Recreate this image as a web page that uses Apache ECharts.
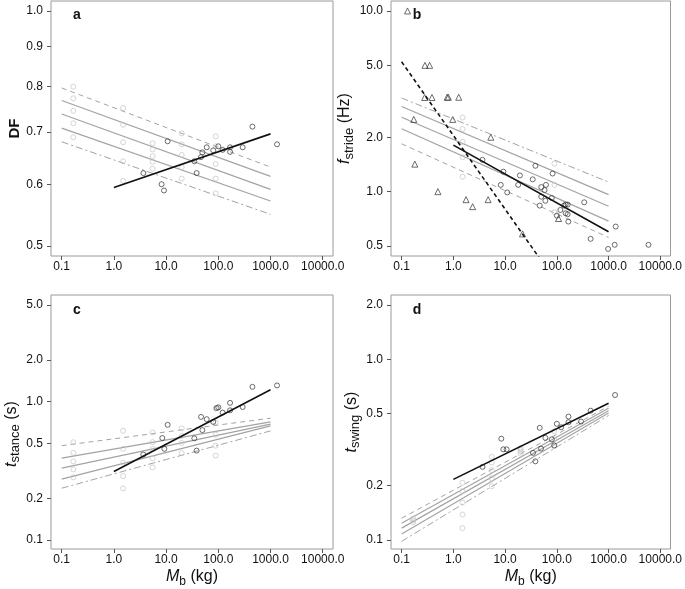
<!DOCTYPE html>
<html><head><meta charset="utf-8">
<script src="https://cdn.jsdelivr.net/npm/echarts@6/dist/echarts.min.js"></script>
<style>html,body{margin:0;padding:0;background:#fff}#c{width:685px;height:589px}</style>
</head><body><div id="c"></div>
<script>
// ---------- tick labels ----------
const xTicks = [0.1, 1, 10, 100, 1000, 10000];
const aTicks = [0.5, 0.6, 0.7, 0.8, 0.9, 1.0];
const bTicks = [0.5, 1.0, 2.0, 5.0, 10.0];
const cTicks = [0.1, 0.2, 0.5, 1.0, 2.0, 5.0];
const dTicks = [0.1, 0.2, 0.5, 1.0, 2.0];

// ---------- regression lines (values at x = 0.1 and 1000) ----------
const fitX = [0.1, 1000];
const blackX = [1, 1000];
// panel a
const aUpper = [0.797, 0.631];
const aFit1 = [0.768, 0.614];
const aFit2 = [0.738, 0.591];
const aFit3 = [0.708, 0.571];
const aLower = [0.680, 0.549];
const aBlack = [0.594, 0.696];
// panel b
const bUpper = [3.30, 1.13];
const bFit1 = [2.96, 0.963];
const bFit2 = [2.58, 0.831];
const bFit3 = [2.23, 0.687];
const bLower = [1.84, 0.558];
const bBlack = [1.81, 0.600];
const bDashX = [0.1, 100];
const bDash = [5.23, 0.313];
// panel c
const cUpper = [0.481, 0.760];
const cFit1 = [0.391, 0.715];
const cFit2 = [0.331, 0.688];
const cFit3 = [0.276, 0.668];
const cLower = [0.237, 0.615];
const cBlack = [0.313, 1.22];
// panel d
const dUpper = [0.1316, 0.549];
const dFit1 = [0.1236, 0.536];
const dFit2 = [0.116, 0.519];
const dFit3 = [0.1075, 0.504];
const dLower = [0.098, 0.488];
const dBlack = [0.216, 0.570];

// ---------- points [body mass kg, value] ----------
const aGray = [[0.167,0.80],[0.167,0.773],[0.167,0.745],[0.167,0.718],[0.167,0.689],
  [1.5,0.751],[1.5,0.715],[1.5,0.679],[1.5,0.642],[1.5,0.606],
  [5.52,0.677],[5.52,0.665],[5.52,0.652],[5.52,0.641],[5.52,0.628],
  [19.9,0.697],[19.9,0.675],[19.9,0.654],[19.9,0.631],[19.9,0.610],
  [89,0.691],[89,0.671],[89,0.637],[89,0.610],[89,0.584]];
const aDark = [[3.67,0.620],[8.2,0.600],[9.1,0.589],[10.7,0.681],[34.7,0.642],[38.5,0.620],
  [46.7,0.650],[49.5,0.659],[60,0.669],[80,0.663],[100,0.671],[121,0.664],[168,0.669],
  [168,0.660],[293,0.669],[450,0.711],[1334,0.675]];

const bGray = [[1.51,2.57],[1.51,2.22],[1.51,1.89],[1.51,1.55],[1.51,1.21],[90,1.43],[90,1.09],[90,0.769]];
const bDark = [[3.65,1.50],[9.25,1.29],[8.25,1.09],[11.0,0.99],[19.3,1.23],[17.9,1.09],[34.2,1.17],
  [38.5,1.39],[50,1.06],[61.6,1.09],[58,1.02],[82.8,1.26],[50,0.938],[60,0.89],[46.7,0.837],
  [80,0.923],[117,0.792],[138,0.837],[148,0.848],[162,0.848],[148,0.759],[162,0.75],[100,0.737],
  [167,0.683],[339,0.873],[450,0.548],[980,0.482],[1374,0.641],[1313,0.508],[5900,0.508]];
const bTri = [[0.13,10.0],[0.283,5.0],[0.348,5.0],[0.279,3.32],[0.386,3.32],[0.76,3.33],[0.80,3.33],
  [1.27,3.33],[0.172,2.51],[0.974,2.51],[5.3,2.0],[0.18,1.42],[0.503,1.0],[1.76,0.903],[2.36,0.826],
  [4.7,0.903],[21.7,0.584],[108,0.71]];

const cGray = [[0.167,0.509],[0.167,0.427],[0.167,0.37],[0.167,0.324],[0.167,0.284],
  [1.5,0.616],[1.5,0.456],[1.5,0.362],[1.5,0.29],[1.5,0.236],
  [5.52,0.60],[5.52,0.51],[5.52,0.456],[5.52,0.39],[5.52,0.335],
  [19.9,0.641],[19.9,0.565],[19.9,0.503],[19.9,0.425],
  [89,0.891],[89,0.708],[89,0.577],[89,0.481],[89,0.408]];
const cDark = [[3.66,0.415],[8.45,0.546],[9.24,0.456],[10.7,0.68],[34.7,0.543],[38.5,0.443],
  [46.7,0.776],[49.5,0.623],[60,0.747],[80,0.714],[93,0.90],[100,0.91],[121,0.834],[168,0.98],
  [168,0.866],[293,0.915],[450,1.28],[1334,1.31]];

const dGray = [[0.167,0.125],[0.167,0.128],[0.167,0.131],
  [1.5,0.207],[1.5,0.186],[1.5,0.161],[1.5,0.138],[1.5,0.116],
  [5.52,0.288],[5.52,0.268],[5.52,0.243],[5.52,0.219],[5.52,0.198],
  [19.9,0.322],[19.9,0.315],[19.9,0.308],[19.9,0.30],
  [89,0.40],[89,0.36],[89,0.33]];
const dDark = [[3.66,0.2535],[8.45,0.363],[9.24,0.317],[10.7,0.317],[34.7,0.303],[38.5,0.272],
  [46.7,0.417],[49.5,0.320],[60,0.367],[80,0.36],[89,0.333],[100,0.439],[121,0.42],[168,0.481],
  [168,0.448],[293,0.452],[450,0.519],[1334,0.634]];

// ---------- helpers ----------
const L = v => Math.log10(v);
const FONT = 'Liberation Sans, Arial, Helvetica, sans-serif';
const GRAYLINE = '#a3a3a3';
const fmt = v => Number(Math.pow(10, v).toPrecision(6)).toFixed(1);

const grids = [
  {left: 51, top: 1, width: 282, height: 255},
  {left: 391, top: 1, width: 282, height: 255},
  {left: 51, top: 295, width: 282, height: 256},
  {left: 391, top: 295, width: 282, height: 256}
].map(g => Object.assign(g, {show: true, borderColor: '#9a9a9a', borderWidth: 1, backgroundColor: 'transparent'}));

const yRanges = [[-0.3138, 0.0128], [-0.3561, 1.0551], [-1.0645, 0.7707], [-1.0511, 0.356]];
const yTickSets = [aTicks, bTicks, cTicks, dTicks];

const subName = (main, sub, rest, opts) => ({
  name: '{i|' + main + '}{s|' + sub + '}{n|' + rest + '}',
  nameTextStyle: Object.assign({
    fontFamily: FONT, color: '#111',
    rich: {
      i: {fontStyle: 'italic', fontSize: opts.main, lineHeight: opts.lh, fontFamily: FONT, color: '#111'},
      s: {fontSize: opts.sub, lineHeight: opts.sub, verticalAlign: 'bottom', fontFamily: FONT, color: '#111'},
      n: {fontSize: opts.main, lineHeight: opts.lh, fontFamily: FONT, color: '#111'}
    }
  }, opts.extra || {})
});

const xAxes = [0,1,2,3].map(i => {
  const ax = {
    type: 'value', gridIndex: i, min: -1.205, max: 4.197, position: 'bottom',
    axisLine: {show: false, onZero: false},
    splitLine: {show: false},
    axisTick: {show: true, inside: false, customValues: xTicks.map(L), length: 4, lineStyle: {color: '#555'}},
    axisLabel: {customValues: xTicks.map(L), formatter: fmt, fontSize: 12, color: '#111', margin: 5, fontFamily: FONT}
  };
  if (i >= 2) {
    Object.assign(ax, subName('M', 'b', ' (kg)', {main: 16, sub: 12, lh: 22}));
    ax.nameLocation = 'middle';
    ax.nameGap = 17;
  }
  return ax;
});

const yNames = [
  {name: 'DF', nameTextStyle: {fontFamily: FONT, fontWeight: 'bold', fontSize: 15, color: '#111'}},
  subName('f', 'stride', ' (Hz)', {main: 16, sub: 13, lh: 22}),
  subName('t', 'stance', ' (s)', {main: 16, sub: 13, lh: 22, extra: {padding: [0, 24, 0, 0]}}),
  subName('t', 'swing', ' (s)', {main: 16, sub: 13, lh: 22})
];

const yAxes = [0,1,2,3].map(i => Object.assign({
  type: 'value', gridIndex: i, min: yRanges[i][0], max: yRanges[i][1], position: 'left',
  nameLocation: 'middle', nameRotate: 90, nameGap: 27,
  axisLine: {show: false, onZero: false},
  splitLine: {show: false},
  axisTick: {show: true, inside: false, customValues: yTickSets[i].map(L), length: 4, lineStyle: {color: '#555'}},
  axisLabel: {customValues: yTickSets[i].map(L), formatter: fmt, fontSize: 12, color: '#111', margin: 8, fontFamily: FONT}
}, yNames[i]));

const series = [];
function addLine(i, xs, ys, color, width, type, z) {
  series.push({
    type: 'line', xAxisIndex: i, yAxisIndex: i, silent: true, clip: true,
    data: xs.map((x, k) => [L(x), L(ys[k])]),
    showSymbol: false, symbol: 'none', z: z || 2,
    lineStyle: {color: color, width: width, type: type}
  });
}
function addPts(i, pts, color, symbol, size, z) {
  series.push({
    type: 'scatter', xAxisIndex: i, yAxisIndex: i, silent: true,
    data: pts.map(p => [L(p[0]), L(p[1])]),
    symbol: symbol, symbolSize: size, z: z || 3,
    itemStyle: {color: 'rgba(0,0,0,0)', borderColor: color, borderWidth: 0.9}
  });
}
const DASH = [5, 4];
const DASHDOT = [7, 3, 2, 3];

function band(i, up, f1, f2, f3, lo, upType, loType) {
  addLine(i, fitX, up, GRAYLINE, 1, upType);
  addLine(i, fitX, f1, GRAYLINE, 1.2, 'solid');
  addLine(i, fitX, f2, GRAYLINE, 1.2, 'solid');
  addLine(i, fitX, f3, GRAYLINE, 1.2, 'solid');
  addLine(i, fitX, lo, GRAYLINE, 1, loType);
}
// panel a
addPts(0, aGray, '#c4c4c4', 'circle', 5);
band(0, aUpper, aFit1, aFit2, aFit3, aLower, DASH, DASHDOT);
addPts(0, aDark, '#333', 'circle', 5, 4);
addLine(0, blackX, aBlack, '#111', 1.6, 'solid', 5);
// panel b
addPts(1, bGray, '#c4c4c4', 'circle', 5);
band(1, bUpper, bFit1, bFit2, bFit3, bLower, DASHDOT, DASH);
addPts(1, bDark, '#333', 'circle', 5, 4);
addPts(1, bTri, '#333', 'triangle', 6, 4);
addLine(1, blackX, bBlack, '#111', 1.6, 'solid', 5);
addLine(1, bDashX, bDash, '#111', 1.6, [4, 3], 5);
// panel c
addPts(2, cGray, '#c4c4c4', 'circle', 5);
band(2, cUpper, cFit1, cFit2, cFit3, cLower, DASH, DASHDOT);
addPts(2, cDark, '#333', 'circle', 5, 4);
addLine(2, blackX, cBlack, '#111', 1.6, 'solid', 5);
// panel d
addPts(3, dGray, '#c4c4c4', 'circle', 5);
band(3, dUpper, dFit1, dFit2, dFit3, dLower, DASH, DASHDOT);
addPts(3, dDark, '#333', 'circle', 5, 4);
addLine(3, blackX, dBlack, '#111', 1.6, 'solid', 5);

const panelLetters = ['a', 'b', 'c', 'd'];
const letterPos = [[77, 15], [417, 15], [77, 310], [417, 310]];
const graphic = panelLetters.map((t, k) => ({
  type: 'text', x: letterPos[k][0], y: letterPos[k][1], z: 10,
  style: {text: t, font: 'bold 14px ' + FONT, fill: '#111', textAlign: 'center', textVerticalAlign: 'middle'}
}));

const chart = echarts.init(document.getElementById('c'), null, {renderer: 'canvas'});
chart.setOption({
  animation: false,
  backgroundColor: '#fff',
  grid: grids,
  xAxis: xAxes,
  yAxis: yAxes,
  series: series,
  graphic: graphic
});
</script></body></html>
